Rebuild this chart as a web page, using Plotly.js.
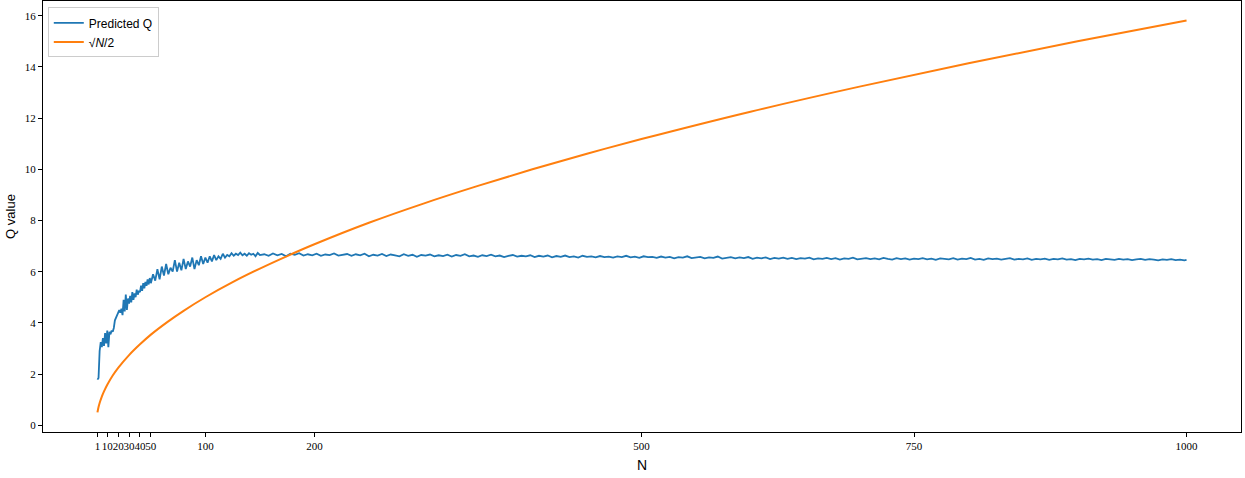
<!DOCTYPE html>
<html>
<head>
<meta charset="utf-8">
<script src="https://cdn.plot.ly/plotly-3.0.1.min.js"></script>
<style>html,body{margin:0;padding:0;background:#fff;}#chart{width:1245px;height:478px;}</style>
</head>
<body>
<div id="chart"></div>
<script>
// ---- tick labels ----
const xTickVals = [1, 10, 20, 30, 40, 50, 100, 200, 500, 750, 1000];
const xTickText = ["1", "10", "20", "30", "40", "50", "100", "200", "500", "750", "1000"];
const yTickVals = [0, 2, 4, 6, 8, 10, 12, 14, 16];

// ---- Predicted Q ----
// N = 1..50 step 1
const qEarly = [1.78,1.85,2.9,3.25,3.05,3.4,3.1,3.6,3.2,3.7,
  3.05,3.65,3.55,3.7,3.65,3.8,4.1,4.2,4.3,4.35,
  4.5,4.4,4.55,4.3,4.9,4.45,5.1,4.5,4.95,4.75,
  5.05,4.8,5.2,4.9,5.15,5.0,5.3,5.1,5.25,5.2,
  5.45,5.25,5.55,5.35,5.6,5.45,5.7,5.5,5.75,5.55];
// N = 52..150 step 2
const qMid = [5.9,5.65,6.1,5.7,6.2,5.85,6.3,5.9,6.15,6.0,
  6.45,6.0,6.35,6.05,6.5,6.1,6.4,6.2,6.55,6.1,
  6.45,6.25,6.6,6.3,6.55,6.35,6.6,6.4,6.65,6.45,
  6.6,6.5,6.7,6.55,6.65,6.6,6.72,6.62,6.7,6.65,
  6.74,6.64,6.7,6.62,6.72,6.66,6.7,6.6,6.73,6.65];
// N = 154..998 step 4, then N = 1000
const qLate = [6.68,6.62,6.71,6.64,6.69,6.6,6.7,6.66,6.72,6.63,
  6.68,6.64,6.7,6.62,6.67,6.65,6.71,6.63,6.66,6.69,
  6.62,6.68,6.64,6.7,6.6,6.66,6.63,6.69,6.61,6.67,
  6.64,6.6,6.68,6.62,6.66,6.58,6.65,6.63,6.67,6.6,
  6.64,6.61,6.66,6.59,6.65,6.62,6.68,6.6,6.63,6.58,
  6.64,6.61,6.66,6.6,6.63,6.57,6.62,6.65,6.59,6.62,
  6.6,6.64,6.57,6.62,6.59,6.63,6.56,6.61,6.58,6.63,
  6.57,6.6,6.55,6.62,6.58,6.6,6.56,6.61,6.57,6.59,
  6.55,6.6,6.57,6.62,6.56,6.59,6.54,6.6,6.57,6.58,
  6.54,6.59,6.55,6.58,6.52,6.57,6.55,6.6,6.53,6.56,
  6.58,6.52,6.56,6.54,6.59,6.51,6.55,6.57,6.52,6.56,
  6.53,6.57,6.5,6.55,6.52,6.56,6.49,6.54,6.51,6.55,
  6.5,6.54,6.49,6.53,6.51,6.55,6.48,6.52,6.5,6.54,
  6.49,6.53,6.47,6.52,6.5,6.55,6.48,6.51,6.53,6.49,
  6.52,6.48,6.54,6.5,6.47,6.53,6.49,6.52,6.47,6.51,
  6.49,6.53,6.48,6.51,6.46,6.52,6.5,6.48,6.53,6.47,
  6.51,6.49,6.54,6.47,6.5,6.46,6.52,6.49,6.51,6.47,
  6.5,6.53,6.47,6.5,6.48,6.52,6.46,6.5,6.48,6.51,
  6.46,6.5,6.48,6.52,6.47,6.49,6.45,6.5,6.48,6.51,
  6.47,6.49,6.45,6.5,6.48,6.46,6.5,6.47,6.49,6.45,
  6.48,6.5,6.46,6.49,6.47,6.44,6.48,6.46,6.49,6.45,
  6.47,6.44];
const qLast = [6.46];

// ---- sqrt(N)/2 curve ----
const sqrtN = [1,2,3,5,7,10,15,20,30,40,50,65,80,100,125,150,175,200,250,300,350,400,450,500,600,700,800,900,1000];
const sqrtQ = [0.5,0.71,0.87,1.12,1.32,1.58,1.94,2.24,2.74,3.16,3.54,4.03,4.47,5.0,5.59,6.12,6.61,7.07,7.91,8.66,9.35,10.0,10.61,11.18,12.25,13.23,14.14,15.0,15.81];

// sample positions for the predicted series
function steps(start, step, n) { const a = []; for (let i = 0; i < n; i++) a.push(start + i * step); return a; }
const predN = [].concat(steps(1, 1, qEarly.length), steps(52, 2, qMid.length), steps(154, 4, qLate.length), [1000]);
const predQ = [].concat(qEarly, qMid, qLate, qLast);

const serif = "Liberation Serif, DejaVu Serif, serif";
const sans = "Liberation Sans Narrow, Liberation Sans, Arial, sans-serif";

const traces = [
  {x: predN, y: predQ, type: "scatter", mode: "lines", name: "Predicted Q",
   line: {color: "#1f77b4", width: 1.8}},
  {x: sqrtN, y: sqrtQ, type: "scatter", mode: "lines", name: "√<i>N</i>/2",
   line: {color: "#ff7f0e", width: 2, shape: "spline", smoothing: 1}}
];

const axisCommon = {
  showline: true, mirror: true, linecolor: "#000", linewidth: 1,
  ticks: "outside", ticklen: 4, tickwidth: 1, tickcolor: "#000",
  showgrid: false, zeroline: false,
  tickfont: {family: serif, size: 11, color: "#000"}
};

const layout = {
  width: 1245, height: 478,
  margin: {l: 43, r: 4, t: 1, b: 46},
  paper_bgcolor: "#fff", plot_bgcolor: "#fff",
  showlegend: true,
  legend: {x: 0.004, y: 0.985, xanchor: "left", yanchor: "top",
    bgcolor: "rgba(255,255,255,0.8)", bordercolor: "#ccc", borderwidth: 1,
    itemwidth: 30, tracegroupgap: 0,
    font: {family: sans, size: 12, color: "#000"}},
  xaxis: Object.assign({}, axisCommon, {
    range: [-48.95, 1049.95], tickmode: "array", tickvals: xTickVals, ticktext: xTickText,
    tickangle: 0, automargin: false,
    title: {text: "N", font: {family: sans, size: 14, color: "#000"}, standoff: 8}
  }),
  yaxis: Object.assign({}, axisCommon, {
    range: [-0.2655, 16.5755], tickmode: "array", tickvals: yTickVals,
    title: {text: "Q value", font: {family: sans, size: 13, color: "#000"}, standoff: 6}
  })
};

Plotly.newPlot("chart", traces, layout, {displayModeBar: false, staticPlot: true});
</script>
</body>
</html>
